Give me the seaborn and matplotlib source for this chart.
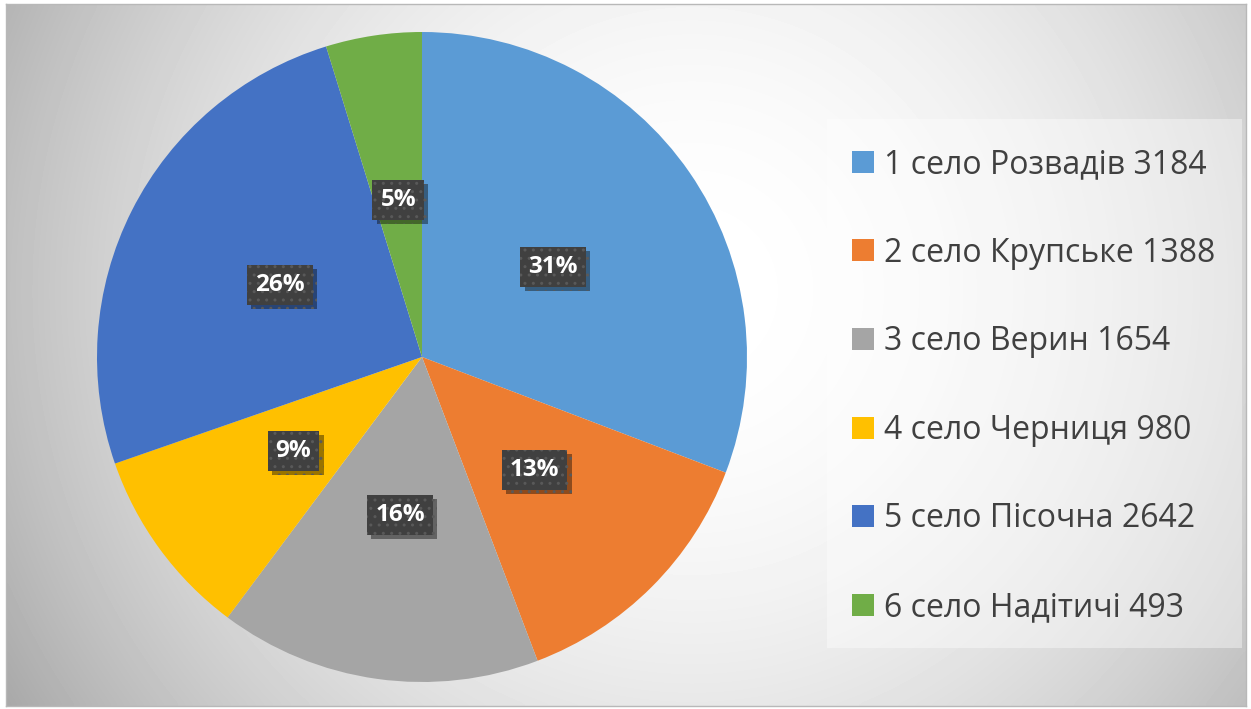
import numpy as np
import matplotlib
matplotlib.use("Agg")
import matplotlib.pyplot as plt
import matplotlib.patches as mpatches
import matplotlib.patheffects as pe
import seaborn as sns

labels = ["1 село Розвадів 3184", "2 село Крупське 1388", "3 село Верин 1654",
          "4 село Черниця 980", "5 село Пісочна 2642", "6 село Надітичі 493"]
values = [3184, 1388, 1654, 980, 2642, 493]
colors = ["#5B9BD5", "#ED7D31", "#A5A5A5", "#FFC000", "#4472C4", "#70AD47"]

sns.set_theme(style="white")
plt.rcParams['font.family'] = ['Open Sans', 'DejaVu Sans']

W, H = 1251, 709
fig = plt.figure(figsize=(W / 100, H / 100), dpi=100)
fig.patch.set_facecolor("white")

# background radial gradient inside border
x0, x1, y0, y1 = 6, 1246, 4, 706
bg = fig.add_axes([x0 / W, (H - y1) / H, (x1 - x0) / W, (y1 - y0) / H])
yy, xx = np.mgrid[y0:y1:4, x0:x1:4]
d = np.sqrt((xx - 690) ** 2 + (yy - 290) ** 2) / 680
img = np.clip(1 - 0.245 * d ** 2, 0, 1)
bg.imshow(img, cmap="gray", vmin=0, vmax=1, aspect="auto", interpolation="bicubic")
bg.set_xticks([]); bg.set_yticks([])
for s in bg.spines.values():
    s.set_color("#b8b8b8"); s.set_linewidth(1)

# legend box
fig.patches.append(mpatches.Rectangle((827 / W, 1 - 648 / H), (1242 - 827) / W, (648 - 119) / H,
                                      transform=fig.transFigure, facecolor="white", alpha=0.4,
                                      edgecolor="none", zorder=1))

cx_p, cy_p, R = 422, 357, 325
ax = fig.add_axes([(cx_p - R) / W, (H - cy_p - R) / H, 2 * R / W, 2 * R / H])
ax.set_axis_off()
wedges, texts, autotexts = ax.pie(values, colors=colors, startangle=90, counterclock=False,
                                  autopct=lambda p: f"{p:.0f}%", pctdistance=0.49,
                                  wedgeprops=dict(edgecolor="none", linewidth=0),
                                  textprops=dict(color="white", fontsize=17.5, fontweight="bold"))
ax.set_xlim(-1, 1); ax.set_ylim(-1, 1)
for t in autotexts:
    t.set_bbox(dict(boxstyle="square,pad=0.33", facecolor="#404040", edgecolor="#595959",
                    linewidth=0, hatch=".."))
    t.get_bbox_patch().set_path_effects([pe.withSimplePatchShadow(offset=(3, -3), shadow_rgbFace="black", alpha=0.4),
                                         pe.Normal()])

handles = [mpatches.Patch(facecolor=c, edgecolor="none") for c in colors]
leg = fig.legend(handles, labels, loc="upper left", bbox_to_anchor=(852 / W, 1 - 148 / H),
                 frameon=False, fontsize=23, handlelength=0.68, handleheight=0.68,
                 handletextpad=0.33, labelspacing=1.74, borderpad=0, borderaxespad=0)
for t in leg.get_texts():
    t.set_color("#404040")

fig.savefig("out.png", dpi=100, facecolor="white")
